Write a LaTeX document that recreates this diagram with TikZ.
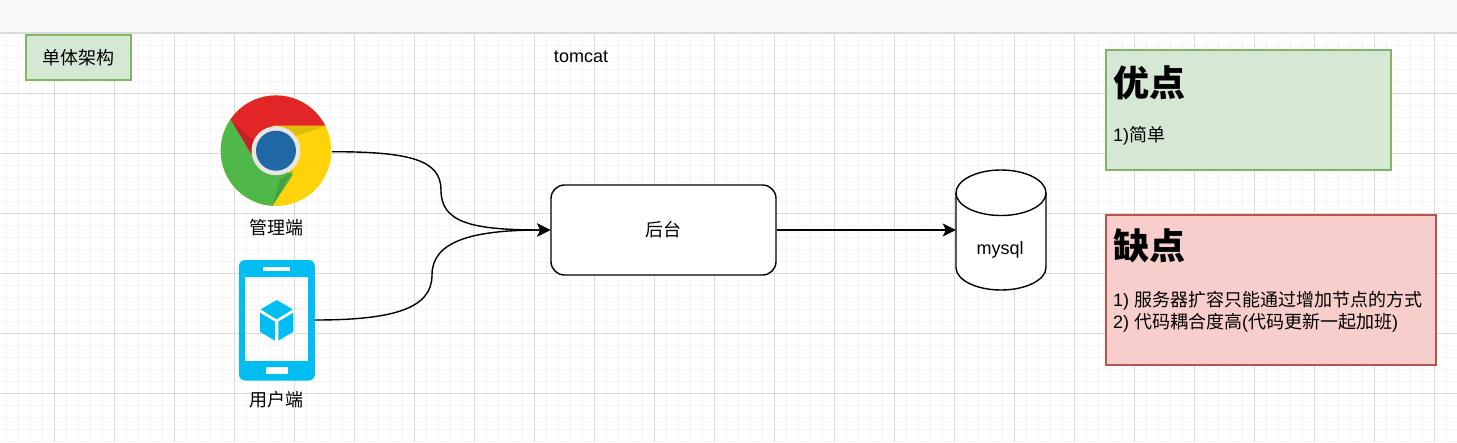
\documentclass[tikz,border=0pt]{standalone}
\usepackage{fontspec}
\setmainfont{Liberation Sans}
\newfontfamily\cjk{Noto Sans CJK SC}
\usetikzlibrary{arrows.meta}
\newcommand{\C}[1]{{\cjk #1}}
\tikzset{
  txt/.style={inner sep=0pt,font=\fontsize{18}{22}\selectfont,text=black},
  head/.style={inner sep=0pt,anchor=west,font=\fontsize{36}{40}\selectfont\bfseries,text=black},
  greenbox/.style={draw=greenline,fill=greenfill,line width=1.3pt},
  redbox/.style={draw=redline,fill=redfill,line width=1.3pt},
  conn/.style={draw=black,line width=1.4pt,-{Stealth[length=13pt,width=13pt,inset=3pt]}},
  blackline/.style={draw=black,line width=1.4pt},
  iconcol/.style={fill=phoneblue,draw=none}
}
\definecolor{greenline}{HTML}{82B366}
\definecolor{greenfill}{HTML}{D5E8D4}
\definecolor{redline}{HTML}{B85450}
\definecolor{redfill}{HTML}{F8CECC}
\definecolor{phoneblue}{HTML}{00BEF2}
\definecolor{gmajor}{HTML}{DADADA}
\definecolor{gminor}{HTML}{F5F5F5}
\definecolor{topbar}{HTML}{F8F9FA}
\definecolor{cred}{HTML}{E22628}
\definecolor{cdred}{HTML}{C62026}
\definecolor{cgreen}{HTML}{4FB848}
\definecolor{cdgreen}{HTML}{43A244}
\definecolor{cyellow}{HTML}{FFD30A}
\definecolor{cdyellow}{HTML}{DFBE0A}
\definecolor{cblue}{HTML}{2068A4}
\definecolor{cring}{HTML}{E6E6E6}
\begin{document}
\begin{tikzpicture}[x=1pt,y=-1pt]
\useasboundingbox (0,0) rectangle (1457,442);
\fill[white] (0,0) rectangle (1457,442);
% grid
\foreach \x in {6.5,18.5,...,1457} \draw[gminor,line width=1pt] (\x,33) -- (\x,442);
\foreach \y in {45.5,57.5,...,442} \draw[gminor,line width=1pt] (0,\y) -- (1457,\y);
\foreach \x in {54.5,114.5,...,1457} \draw[gmajor,line width=1pt] (\x,33) -- (\x,442);
\foreach \y in {93.5,153.5,...,442} \draw[gmajor,line width=1pt] (0,\y) -- (1457,\y);
% top bar
\fill[topbar] (0,0) rectangle (1457,32);
\fill[gmajor] (0,32) rectangle (1457,34);
% label boxes
\node[greenbox,txt,minimum width=105pt,minimum height=45pt] (arch) at (78.5,57.5) {\C{单体架构}};
\node[txt] (tc) at (581,57) {tomcat};
% chrome icon
\node[circle,minimum size=112pt,inner sep=0pt] (chrome) at (276,151.7) {};
\begin{scope}[shift={(276,150.7)}]
  \begin{scope}
    \clip (0,0) circle (55.3);
    \fill[cyellow] (-60,-60) rectangle (60,60);
    \fill[cred] (-3,-25) -- (70,-25) -- (70,-70) -- (-70,-70) -- (-70,-50) -- (-45.3,-31.3) -- (-24,4.5) -- cycle;
    \fill[cgreen] (-45.3,-31.3) -- (-24,4.5) -- (17,24) -- (-3.7,55.3) -- (-70,70) -- (-70,-50) -- cycle;
    \fill[cdred] (-45.3,-31.3) -- (-24,4.5) -- (-22,-10) -- cycle;
    \fill[cdyellow] (2,-24.7) -- (49.5,-24.7) -- (20,-15) -- cycle;
    \fill[cdgreen] (-3.7,55.3) -- (17,20) -- (4,29) -- cycle;
  \end{scope}
  \fill[cring] (0,0) circle (24.5);
  \fill[cblue] (0,0) circle (20);
\end{scope}
\node[txt] (admin) at (276,228) {\C{管理端}};
% phone icon
\node[rectangle,minimum width=76pt,minimum height=121pt,inner sep=0pt] (phone) at (276.8,320) {};
\fill[iconcol,even odd rule] [rounded corners=6pt] (239,260) rectangle (314.8,380.5) [sharp corners] (245,277) rectangle (308,361) (263,267) rectangle (290,271) (266,367) rectangle (288,374);
\fill[iconcol] (276.7,300) -- (292.7,309.3) -- (276.7,319.3) -- (260.7,309.3) -- cycle;
\fill[iconcol] (260,312.7) -- (275,321.7) -- (275,340.7) -- (260,331.7) -- cycle;
\fill[iconcol] (278.3,321.7) -- (293.3,312.7) -- (293.3,331.7) -- (278.3,340.7) -- cycle;
\node[txt] (user) at (276,400) {\C{用户端}};
% backend
\node[draw=black,line width=1.4pt,fill=white,rounded corners=13.5pt,minimum width=225pt,minimum height=90pt,txt] (back) at (663.5,230) {\C{后台}};
% database
\node[rectangle,minimum width=90pt,minimum height=120pt,inner sep=0pt] (db) at (1001,230) {};
\path[blackline,fill=white] (956,193) -- (956,267.5) arc[start angle=180,end angle=0,x radius=45,y radius=22.5] -- (1046,193) arc[start angle=0,end angle=-180,x radius=45,y radius=23] -- cycle;
\draw[blackline] (956,193) arc[start angle=180,end angle=0,x radius=45,y radius=22.5];
\node[txt] (dbl) at (1000,250) {mysql};
% connectors
\draw[conn] (chrome.east) .. controls (410,151.7) and (441,160) .. (441,190) .. controls (441,222) and (470,230) .. (back.west);
\draw[conn] (phone.east) .. controls (395,320) and (432,308) .. (432,275) .. controls (432,242) and (470,230) .. (back.west);
\draw[conn] (back.east) -- (db.west);
% pros / cons
\node[greenbox,minimum width=285pt,minimum height=120pt,inner sep=0pt] (pros) at (1248.5,110) {};
\node[head] (prost) at (1113,83) {\C{优点}};
\node[txt,anchor=west] (prosb) at (1113,136) {1)\C{简单}};
\node[redbox,minimum width=330pt,minimum height=150pt,inner sep=0pt] (cons) at (1271,290) {};
\node[head] (const) at (1113,246) {\C{缺点}};
\node[txt,anchor=west,align=left] (consb) at (1113,312) {1) \C{服务器扩容只能通过增加节点的方式}\\2) \C{代码耦合度高}(\C{代码更新一起加班})};
\end{tikzpicture}
\end{document}
